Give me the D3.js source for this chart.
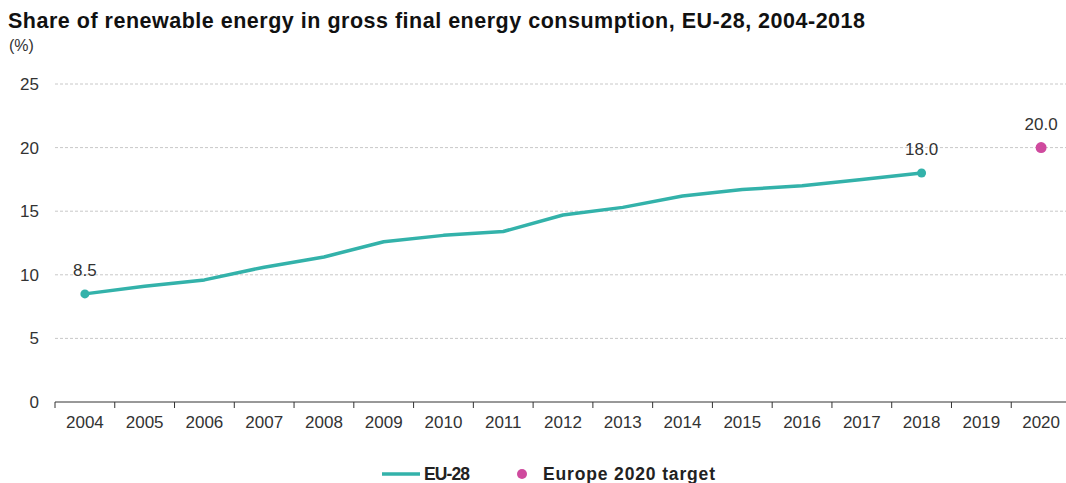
<!DOCTYPE html>
<html><head><meta charset="utf-8">
<script src="https://cdn.jsdelivr.net/npm/d3@7"></script>
<style>body{margin:0;background:#fff;}svg{display:block;font-family:Arial,"Liberation Sans",sans-serif;}</style>
</head><body>
<svg id="c" width="1066" height="483"></svg>
<script>
const years = ["2004","2005","2006","2007","2008","2009","2010","2011","2012","2013","2014","2015","2016","2017","2018","2019","2020"];
const euYears = ["2004","2005","2006","2007","2008","2009","2010","2011","2012","2013","2014","2015","2016","2017","2018"];
const euValues = [8.5, 9.1, 9.6, 10.6, 11.4, 12.6, 13.1, 13.4, 14.7, 15.3, 16.2, 16.7, 17.0, 17.5, 18.0];
const targetYear = "2020";
const targetValue = 20.0;
const yTicks = [0, 5, 10, 15, 20, 25];

const FONT = "Arial, 'Liberation Sans', sans-serif";
const svg = d3.select("#c");
const x = d3.scaleBand().domain(years).range([55, 1071]);
const y = d3.scaleLinear().domain([0, 25]).range([402, 84]);
const cx = d => x(d) + x.bandwidth() / 2;

svg.append("text").attr("x", 8).attr("y", 28).attr("font-size", 21.5).attr("font-weight", "bold").attr("fill", "#111")
  .attr("textLength", 857).attr("lengthAdjust", "spacing")
  .text("Share of renewable energy in gross final energy consumption, EU-28, 2004-2018");
svg.append("text").attr("x", 9).attr("y", 51).attr("font-size", 16).attr("fill", "#333").text("(%)");

// grid
svg.append("g").selectAll("line").data(yTicks.filter(t => t > 0)).join("line")
  .attr("x1", 55).attr("x2", 1066).attr("y1", d => y(d)).attr("y2", d => y(d))
  .attr("stroke", "#c8c8c8").attr("stroke-dasharray", "3,2").attr("stroke-width", 1);

// y labels
const ya = svg.append("g").attr("transform", "translate(39,0)")
  .call(d3.axisLeft(y).tickValues(yTicks).tickSize(0).tickPadding(0));
ya.select(".domain").remove();
ya.selectAll("text").attr("font-size", 17).attr("fill", "#333").attr("font-family", FONT);

// x axis
const xa = svg.append("g").attr("transform", "translate(0,402)")
  .call(d3.axisBottom(x).tickSize(0).tickPadding(14));
xa.select(".domain").attr("stroke", "#333").attr("d", "M55,0H1066");
xa.selectAll("text").attr("font-size", 17).attr("fill", "#333").attr("font-family", FONT);
svg.append("g").selectAll("line").data(years).join("line")
  .attr("x1", d => x(d)).attr("x2", d => x(d)).attr("y1", 402).attr("y2", 408)
  .attr("stroke", "#333").attr("stroke-width", 1);

// line
const teal = "#33b2aa";
const pts = euYears.map((yr, i) => [cx(yr), y(euValues[i])]);
svg.append("path").attr("d", d3.line()(pts)).attr("fill", "none").attr("stroke", teal).attr("stroke-width", 3.5)
  .attr("stroke-linejoin", "round");
[0, euYears.length - 1].forEach(i => {
  svg.append("circle").attr("cx", cx(euYears[i])).attr("cy", y(euValues[i])).attr("r", 4.5).attr("fill", teal);
  svg.append("text").attr("x", cx(euYears[i])).attr("y", y(euValues[i]) - 18).attr("text-anchor", "middle")
    .attr("font-size", 17).attr("fill", "#333").text(euValues[i].toFixed(1));
});

// target
const magenta = "#cf4a9e";
svg.append("circle").attr("cx", cx(targetYear)).attr("cy", y(targetValue)).attr("r", 5.5).attr("fill", magenta);
svg.append("text").attr("x", cx(targetYear)).attr("y", y(targetValue) - 18).attr("text-anchor", "middle")
  .attr("font-size", 17).attr("fill", "#333").text(targetValue.toFixed(1));

// legend
const lg = svg.append("g");
lg.append("line").attr("x1", 382).attr("x2", 420).attr("y1", 474).attr("y2", 474).attr("stroke", teal).attr("stroke-width", 3.5);
lg.append("text").attr("x", 424).attr("y", 480).attr("font-size", 17.5).attr("font-weight", "bold").attr("fill", "#222")
  .attr("textLength", 46).attr("lengthAdjust", "spacing").text("EU-28");
lg.append("circle").attr("cx", 522).attr("cy", 474).attr("r", 5).attr("fill", magenta);
lg.append("text").attr("x", 543).attr("y", 480).attr("font-size", 17.5).attr("font-weight", "bold").attr("fill", "#222")
  .attr("textLength", 172).attr("lengthAdjust", "spacing").text("Europe 2020 target");
</script>
</body></html>
